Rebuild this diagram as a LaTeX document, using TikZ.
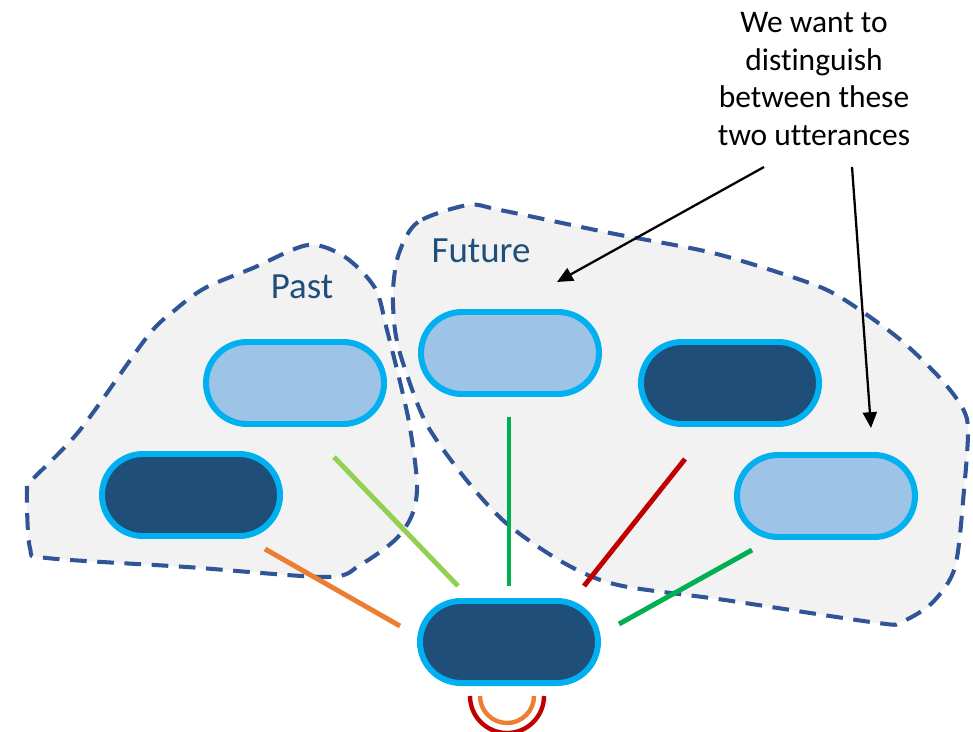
\documentclass[tikz,border=0pt]{standalone}
\usepackage{fontspec}
\setmainfont{Carlito}[Ligatures=NoCommon]
\usepackage{tikz}
\usetikzlibrary{positioning, arrows.meta}
\definecolor{pillline}{HTML}{00B0F0}
\definecolor{pilllight}{HTML}{9DC3E6}
\definecolor{pilldark}{HTML}{1F4E79}
\definecolor{blobline}{HTML}{2F5597}
\definecolor{blobfill}{HTML}{F2F2F2}
\definecolor{labeltext}{HTML}{1F4E79}
\definecolor{linkorange}{HTML}{ED7D31}
\definecolor{linklime}{HTML}{92D050}
\definecolor{linkgreen}{HTML}{00B050}
\definecolor{linkred}{HTML}{C00000}
\tikzset{
		pill/.style={
			rectangle,
			draw=pillline,
			line width=3.4pt,
			rounded corners=8.2mm,
			minimum width=35.6mm,
			minimum height=16.4mm,
			inner sep=0pt
		},
		light pill/.style={pill, fill=pilllight},
		dark pill/.style={pill, fill=pilldark},
		blob/.style={
			draw=blobline,
			fill=blobfill,
			line width=2.3pt,
			dash pattern=on 9.5pt off 6pt
		},
		group label/.style={
			text=labeltext,
			font=\fontsize{21}{25}\selectfont,
			anchor=base
		},
		link/.style={line width=2.8pt},
		pointer/.style={
			line width=1.3pt,
			-{Triangle[length=9pt, width=8pt]}
		}
	}
\begin{document}
\begin{tikzpicture}[x=0.2mm, y=-0.2mm]
			\useasboundingbox (0,0) rectangle (973,731);
			% the two groups
			\draw [blob] plot [smooth cycle, tension=0.5] coordinates {
				(308,245) (345,257) (375,288) (387,330) (408,417) (417,483) (412,515)
				(395,540) (360,565) (327,577) (187,567) (47,558) (30,548) (27,490)
				(32,480) (80,430) (147,337) (175,310) (205,288) (253,268)};
			\draw [blob] plot [smooth cycle, tension=0.5] coordinates {
				(468,205) (418,222) (399,253) (393,290) (395,330) (403,363) (426,423)
				(464,477) (506,523) (564,563) (618,585) (725,600) (878,623) (901,622)
				(932,603) (955,567) (964,490) (968,430) (962,407) (939,377) (897,337)
				(840,297) (801,280) (713,253) (610,233) (500,210)};
			\node [group label] (past) at (302,298) {Past};
			\node [group label] (future) at (481,262) {Future};
			% utterances
			\node [light pill] (pastA) at (295,383) {};
			\node [dark pill] (pastB) at (191,495) {};
			\node [light pill] (futA) at (510,353) {};
			\node [dark pill] (futB) at (730,383) {};
			\node [light pill] (futC) at (826,496) {};
			\node [dark pill] (now) at (509,642) {};
			% links to the current one
			\coordinate (pastB end) at (265,549);
			\coordinate (pastA end) at (334,457);
			\coordinate (futA end) at (509,417);
			\coordinate (futB end) at (685,459);
			\coordinate (futC end) at (752,550);
			\coordinate (now pastB) at (400,626);
			\coordinate (now pastA) at (458,586);
			\coordinate (now futA) at (509,586);
			\coordinate (now futB) at (584,586);
			\coordinate (now futC) at (619,624);
			\draw [link, linkorange] (pastB end) -- (now pastB);
			\draw [link, linklime] (pastA end) -- (now pastA);
			\draw [link, linkgreen] (futA end) -- (now futA);
			\draw [link, linkred] (futB end) -- (now futB);
			\draw [link, linkgreen] (futC end) -- (now futC);
			\draw [line width=2.5pt, linkred] (now.south) ++(-39,10) arc [start angle=180, end angle=0, radius=37];
			\draw [line width=2.5pt, linkorange] (now.south) ++(-29,10) arc [start angle=180, end angle=0, radius=27];
			% the note
			\node [align=center, font=\fontsize{17.9}{21.5}\selectfont] (note) at (814,79)
				{We want to\\distinguish\\between these\\two utterances};
			\coordinate (note left) at (764,167);
			\coordinate (note right) at (852,167);
			\coordinate (futA tip) at (557,282);
			\coordinate (futC tip) at (871,428);
			\draw [pointer] (note left) -- (futA tip);
			\draw [pointer] (note right) -- (futC tip);
		\end{tikzpicture}
\end{document}
